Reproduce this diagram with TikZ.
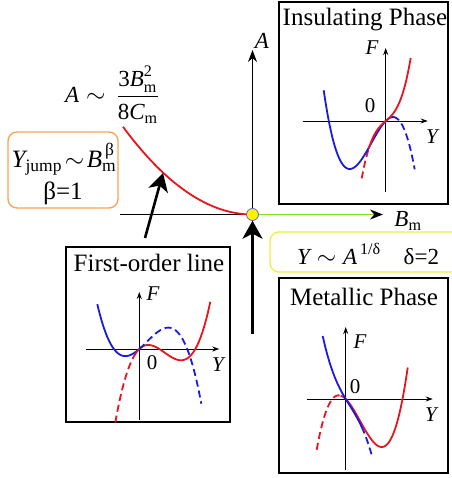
\documentclass[tikz,border=0pt]{standalone}
\usepackage{fontspec}
\setmainfont{Liberation Serif}
\usepackage{amsmath}
\usetikzlibrary{arrows.meta}
\definecolor{cred}{HTML}{E8141E}
\definecolor{cblue}{HTML}{1A1AE0}
\definecolor{cgreen}{HTML}{7FE01F}
\definecolor{corange}{HTML}{F5A55A}
\definecolor{cyel}{HTML}{EEEE44}
\newcommand\myfs[1]{\fontsize{#1}{#1}\selectfont}
\begin{document}
\begin{tikzpicture}[x=1pt,y=-1pt,
  panel/.style={draw=black, line width=2.4pt, inner sep=0pt},
  ttl/.style={font=\myfs{25}, inner sep=0pt},
  lbl/.style={font=\myfs{21}, inner sep=0pt},
  ax/.style={line width=0.9pt, -{Stealth[length=7pt,width=5pt]}},
  rc/.style={cred, line width=1.8pt},
  bc/.style={cblue, line width=1.8pt},
  dsh/.style={dash pattern=on 7pt off 4pt},
  bigarrow/.style={line width=2.6pt, -{Stealth[length=18pt,width=20pt,inset=5pt]}}]
\useasboundingbox (0,0) rectangle (451,478);

% ---- panels
\node[panel, minimum width=169pt, minimum height=202pt] (ins) at (363.5,103) {};
\node[panel, minimum width=169pt, minimum height=195pt] (met) at (363.5,375.5) {};
\node[panel, line width=1.8pt, minimum width=164pt, minimum height=175pt] (fol) at (148,334.5) {};
\node[ttl] (tins) at (365,20) {Insulating Phase};
\node[ttl] (tmet) at (364,297) {Metallic Phase};
\node[ttl] (tfol) at (149,263) {First-order line};

% ---- orange and yellow boxes
\node[draw=corange, line width=1.4pt, rounded corners=9pt, minimum width=110pt, minimum height=76pt] (obox) at (63,170) {};
\node[font=\myfs{25}, inner sep=0pt] (oy) at (64,159) {$\text{\itshape Y}_{\text{jump}}\!\sim\!\text{\itshape B}_{\text{m}}^{\,\text{β}}$};
\node[font=\myfs{25}, inner sep=0pt] (ob) at (63,193) {β=1};
\node[draw=cyel, line width=1.4pt, rounded corners=9pt, minimum width=200pt, minimum height=40pt] (ybox) at (370,252) {};
\node[font=\myfs{23}, inner sep=0pt, anchor=west] (yt) at (297,254) {$\text{\itshape Y}\sim\text{\itshape A}^{\,\text{1/δ}}$\quad δ=2};

% ---- formula
\node[font=\myfs{23}, inner sep=0pt] (form) at (112,95) {$\text{\itshape A}\sim\,\dfrac{\text{3\itshape B}_{\text{m}}^{\text{2}}}{\text{8\itshape C}_{\text{m}}}$};

% ---- main axes
\coordinate (Atop) at (252.5,50);
\coordinate (Lend) at (120,214.5);
\coordinate (Bend) at (383,214.5);
\coordinate (Abot) at (252.5,334);
\coordinate (Ltail) at (145,238);
\coordinate (Lhead) at (163,173);
\node[circle, inner sep=0pt, minimum size=12pt] (O) at (252.5,214.5) {};
\draw[line width=1.2pt, -{Stealth[length=12pt,width=9pt]}] (O) -- (Atop);
\draw[line width=1.3pt] (Lend) -- (O.center);
\draw[cgreen, line width=1.6pt, -{Stealth[length=13pt,width=10pt,color=black]}] (O) -- (Bend);
\draw[rc] plot[domain=123:252.5, samples=50] (\x, {214.5-(0.07232*(252.5-\x))^2});
\node[circle, fill=yellow, draw=cblue!70, line width=0.8pt, inner sep=0pt, minimum size=12pt] at (O) {};
\draw[bigarrow] (Abot) -- (O.south);
\draw[bigarrow] (Ltail) -- (Lhead);
\node[font=\myfs{23}, inner sep=0pt] (lA) at (262,41) {\itshape A};
\node[font=\myfs{23}, inner sep=0pt] (lB) at (408,221) {$\text{\itshape B}_{\text{m}}$};

% ---- insulating plot
\begin{scope}[shift={(385.7,121)}, yscale=-1]
  \draw[ax] (0,-71) -- (0,73);
  \draw[ax] (-83,0) -- (42,0);
  \draw[rc, dsh] plot[domain=-2.4:-1.7, samples=10] ({10*\x}, {8.65*\x+2.65*\x*\x*\x});
  \draw[bc] plot[domain=-6.2:0.73, samples=60] ({10*\x}, {-1.28*\x*\x*\x-5.51*\x*\x+10.09*\x});
  \draw[rc] plot[domain=-1.7:2.5, samples=40] ({10*\x}, {8.65*\x+2.65*\x*\x*\x});
  \draw[bc, dsh] plot[domain=0.73:2.9, samples=20] ({10*\x}, {-1.28*\x*\x*\x-5.51*\x*\x+10.09*\x});
\end{scope}
\node[lbl] (iF) at (372,48) {\itshape F};
\node[lbl] (iY) at (432,137) {\itshape Y};
\node[lbl] (i0) at (370,106) {0};

% ---- first-order plot
\begin{scope}[shift={(139.3,349)}, yscale=-1]
  \draw[ax] (0,-71) -- (0,57);
  \draw[ax] (-53,0) -- (80,0);
  \draw[rc, dsh] plot[domain=-2.4:-0.5, samples=20] ({10*\x}, {0.87*\x*(\x-2)*(\x-5.6)});
  \draw[bc] plot[domain=-4.2:0, samples=40] ({10*\x}, {-0.7167*\x*\x*\x+1.6125*\x*\x+8.729*\x});
  \draw[rc] plot[domain=-0.5:7.1, samples=60] ({10*\x}, {0.87*\x*(\x-2)*(\x-5.6)});
  \draw[bc, dsh] plot[domain=0:6.2, samples=50] ({10*\x}, {-0.7167*\x*\x*\x+1.6125*\x*\x+8.729*\x});
\end{scope}
\node[lbl] (fF) at (153,294) {\itshape F};
\node[lbl] (fY) at (218,365) {\itshape Y};
\node[lbl] (f0) at (152,363) {0};

% ---- metallic plot
\begin{scope}[shift={(345.7,399)}, yscale=-1]
  \draw[ax] (0,-71) -- (0,72);
  \draw[ax] (-39,0) -- (87,0);
  \draw[rc, dsh] plot[domain=-2.9:-0.5, samples=25] ({10*\x}, {1.3*\x*\x*\x-5.655*\x*\x-9.828*\x});
  \draw[rc] plot[domain=-0.5:6.2, samples=60] ({10*\x}, {1.3*\x*\x*\x-5.655*\x*\x-9.828*\x});
  \draw[bc] plot[domain=-2.3:1.6, samples=40] ({10*\x}, {-16.62*\x+1.597*\x*\x-1.342*\x*\x*\x});
  \draw[bc, dsh] plot[domain=1.6:2.6, samples=12] ({10*\x}, {-16.62*\x+1.597*\x*\x-1.342*\x*\x*\x});
\end{scope}
\node[lbl] (mF) at (360,342) {\itshape F};
\node[lbl] (mY) at (431,415) {\itshape Y};
\node[lbl] (m0) at (355,387) {0};
\end{tikzpicture}
\end{document}
